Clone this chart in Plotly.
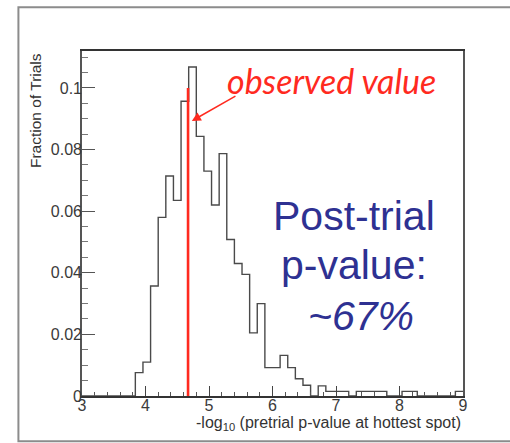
import numpy as np
import plotly.graph_objects as go

# Histogram: fraction of trials per bin of -log10(pretrial p-value), 50 bins over [3, 9]
bin_lo, bin_hi = 3.0, 9.0
fraction = [
    0, 0, 0, 0, 0, 0, 0,
    0.0076, 0.011, 0.0357, 0.058, 0.0714, 0.0635, 0.0957, 0.1068,
    0.0843, 0.073, 0.062, 0.0787, 0.0508, 0.043, 0.0395, 0.0205,
    0.030, 0.0092, 0.0092, 0.0132, 0.0092, 0.0056, 0.0035, 0.0,
    0.0033, 0.0015, 0.0015, 0.0015, 0.0, 0.0015, 0.0015, 0.0015,
    0.0015, 0.0, 0.0, 0.0015, 0.0015, 0, 0, 0, 0, 0, 0.0015,
]
observed_value = 4.67
observed_height = 0.1
arrow_tail = (5.44, 0.0976)
arrow_head = (4.73, 0.0893)
post_trial_text = ["Post-trial", "p-value:", "~67%"]

edges = np.linspace(bin_lo, bin_hi, len(fraction) + 1)
step_x = list(edges)
step_y = list(fraction) + [fraction[-1]]

fig = go.Figure()

# outline of the histogram as a step line
fig.add_trace(go.Scatter(
    x=[bin_lo] + step_x, y=[0] + step_y,
    mode="lines", line=dict(shape="hv", color="#4a4a4a", width=1.4),
    hoverinfo="skip", showlegend=False,
))
# vertical line at the observed value
fig.add_trace(go.Scatter(
    x=[observed_value, observed_value], y=[0, observed_height],
    mode="lines", line=dict(color="#ff2a1f", width=2.6),
    hoverinfo="skip", showlegend=False,
))

tick_font = dict(family="Liberation Sans, Arial, sans-serif", size=16, color="#3a3a3a")

fig.update_xaxes(
    range=[bin_lo, bin_hi], dtick=1, tick0=3,
    ticks="inside", ticklen=10, tickwidth=1.3, tickcolor="#444",
    minor=dict(dtick=0.2, ticklen=4, ticks="inside", tickcolor="#555", tickwidth=1.1),
    showline=True, linecolor="#333", linewidth=2, mirror=True,
    showgrid=False, zeroline=False, tickfont=tick_font,
    ticklabelstandoff=-6,
)
fig.update_yaxes(
    range=[0, 0.112], dtick=0.02, tick0=0,
    ticks="inside", ticklen=13, tickwidth=1.3, tickcolor="#555",
    minor=dict(dtick=0.005, ticklen=6, ticks="inside", tickcolor="#777", tickwidth=1.1),
    showline=True, linecolor="#555", linewidth=1.6, mirror=True,
    showgrid=False, zeroline=False, tickfont=tick_font,
    ticklabelstandoff=-5,
)

# axis titles
fig.add_annotation(
    text="-log<sub>10</sub> (pretrial p-value at hottest spot)",
    xref="paper", yref="paper", x=1.0, y=0, xanchor="right", yanchor="middle",
    yshift=-27, showarrow=False,
    font=dict(family="Liberation Sans, Arial, sans-serif", size=16, color="#333"),
)
fig.add_annotation(
    text="Fraction of Trials", textangle=-90,
    xref="paper", yref="paper", x=-0.122, y=1.0, xanchor="center", yanchor="top",
    showarrow=False,
    font=dict(family="Liberation Sans, Arial, sans-serif", size=15.5, color="#333"),
)

# arrow pointing at the observed value, with its label
fig.add_annotation(
    x=arrow_head[0], y=arrow_head[1], ax=arrow_tail[0], ay=arrow_tail[1],
    xref="x", yref="y", axref="x", ayref="y", text="",
    showarrow=True, arrowhead=2, arrowsize=1.2, arrowwidth=1.5, arrowcolor="#ff2a1f",
)
fig.add_annotation(
    text="<i>observed value</i>", x=6.93, y=0.1025, xref="x", yref="y",
    showarrow=False, xanchor="center", yanchor="middle",
    font=dict(family="Lato, Open Sans, sans-serif", size=34, color="#ff2a1f"),
)

# post-trial summary, three centred lines
blue = "#2e3192"
for i, (txt, xv, yv) in enumerate(zip(post_trial_text,
                                      [7.28, 7.28, 7.39],
                                      [0.0583, 0.0424, 0.0259])):
    fig.add_annotation(
        text=("<i>%s</i>" % txt) if i == 2 else txt,
        x=xv, y=yv, xref="x", yref="y",
        showarrow=False, xanchor="center", yanchor="middle",
        font=dict(family="Liberation Sans, Arial, sans-serif", size=41, color=blue),
    )

# outer frame around the whole panel
fig.add_shape(type="rect", xref="paper", yref="paper",
              x0=-0.1669, x1=1.25, y0=-0.1313, y1=1.1267,
              line=dict(color="#8c8c8c", width=2), layer="below")

fig.update_layout(
    width=510, height=443,
    margin=dict(l=82, r=47, t=51, b=47),
    paper_bgcolor="white", plot_bgcolor="white",
    showlegend=False,
)

fig.write_html("out.html")
